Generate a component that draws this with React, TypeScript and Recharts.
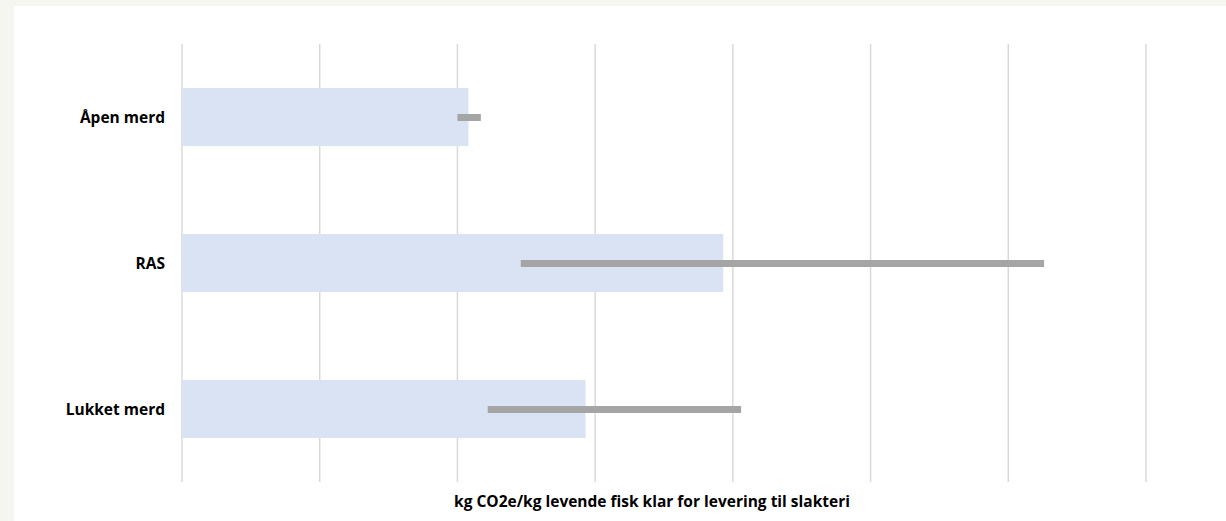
import { BarChart, Bar, XAxis, YAxis, CartesianGrid } from "recharts";

const categories = ["Åpen merd", "RAS", "Lukket merd"];
const mainValues = [2.08, 3.93, 2.93];
const rangeLow = [2.0, 2.46, 2.22];
const rangeHigh = [2.17, 6.26, 4.06];
const xTicks = [0, 1, 2, 3, 4, 5, 6, 7];
const axisTitle = "kg CO2e/kg levende fisk klar for levering til slakteri";

const data = categories.map((name, i) => ({
	name,
	value: mainValues[i],
	range: [rangeLow[i], rangeHigh[i]],
}));

const font = "'Open Sans', 'Liberation Sans', sans-serif";

const App = () => {
	return (
		<div style={{ position: "fixed", left: 0, top: 0, width: 1226, height: 521, background: "#f6f6f1", overflow: "hidden" }}>
			<div style={{ position: "absolute", left: 14, top: 6, right: 0, bottom: 0, background: "#ffffff" }} />
			<div style={{ position: "absolute", left: 0, top: 0 }}>
				<BarChart
					width={1226}
					height={521}
					data={data}
					layout="vertical"
					margin={{ top: 44, right: 80, left: 12, bottom: 39 }}
				>
					<CartesianGrid horizontal={false} stroke="#d9d9d9" strokeWidth={1.5} />
					<XAxis type="number" domain={[0, 7]} ticks={xTicks} hide />
					<YAxis
						yAxisId="main"
						type="category"
						dataKey="name"
						width={170}
						axisLine={false}
						tickLine={false}
						tickSize={0}
						tickMargin={17}
						tick={{ fontSize: 15.5, fontWeight: 700, fill: "#000", fontFamily: font }}
					/>
					<YAxis yAxisId="range" type="category" dataKey="name" hide />
					<Bar yAxisId="main" dataKey="value" fill="#dae3f3" barSize={58} isAnimationActive={false} />
					<Bar yAxisId="range" dataKey="range" fill="#a5a5a5" barSize={7} isAnimationActive={false} />
				</BarChart>
			</div>
			<div
				style={{
					position: "absolute",
					left: 402,
					top: 490,
					width: 500,
					textAlign: "center",
					fontFamily: font,
					fontWeight: 700,
					fontSize: 15.5,
					lineHeight: "22px",
					color: "#000",
					whiteSpace: "nowrap",
				}}
			>
				{axisTitle}
			</div>
		</div>
	);
};

export default App;
